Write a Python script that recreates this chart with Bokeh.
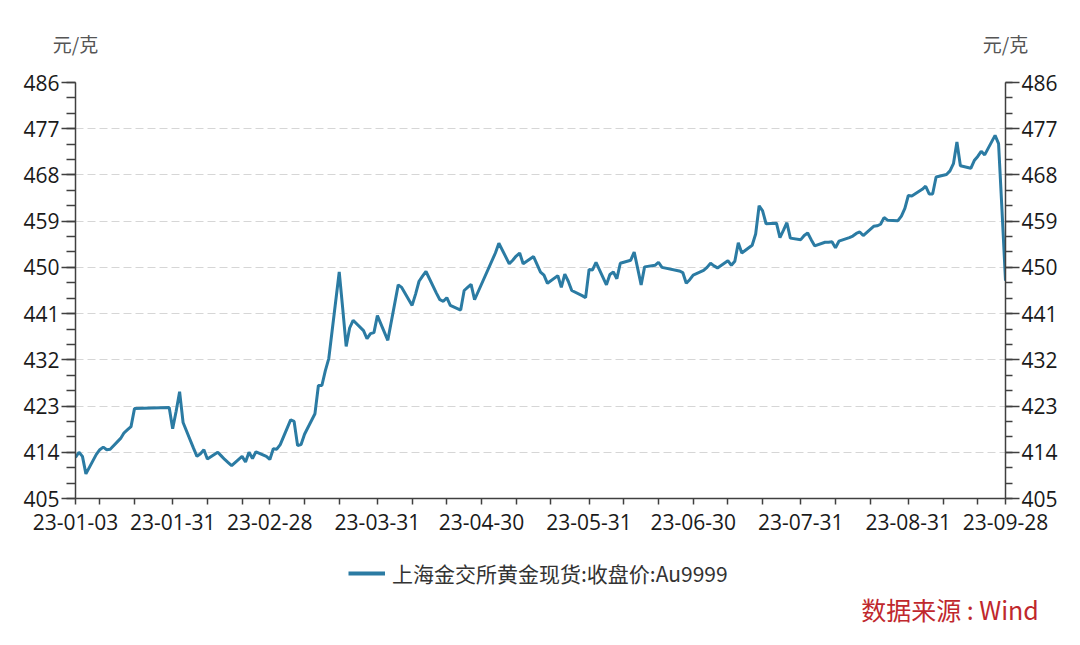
import pandas as pd
from bokeh.plotting import figure
from bokeh.layouts import column
from bokeh.models import (Range1d, LinearAxis, FixedTicker, SingleIntervalTicker,
                          DatetimeTickFormatter, CustomJSTickFormatter,
                          Legend, LegendItem)
from bokeh.embed import file_html
from bokeh.resources import INLINE

# ---- data -------------------------------------------------------------
holidays = ["2023-01-02", "2023-01-23", "2023-01-24", "2023-01-25", "2023-01-26",
            "2023-01-27", "2023-04-05", "2023-05-01", "2023-05-02", "2023-05-03",
            "2023-06-22", "2023-06-23"]
dates = pd.bdate_range("2023-01-03", "2023-09-28", freq="C", holidays=holidays)

jan = [413.0, 414.0, 413.2, 409.8, 413.6, 414.5, 415.0, 414.5, 414.6, 416.7,
       417.8, 418.4, 419.0, 422.5, 422.7, 418.6]
feb = [422.0, 425.8, 419.8, 414.8, 413.2, 413.7, 414.5, 412.7, 414.0, 413.3,
       412.6, 412.0, 411.4, 413.2, 412.1, 414.0, 412.8, 414.1, 413.2, 412.6]
mar = [414.7, 414.6, 415.5, 420.3, 420.0, 415.3, 415.5, 417.5, 421.5, 427.0,
       427.0, 429.9, 432.3, 449.1, 442.0, 434.6, 438.2, 439.7, 437.7, 436.1,
       437.1, 437.3, 440.6]
apr = [435.8, 439.4, 446.6, 446.1, 442.6, 444.8, 447.3, 448.3, 449.2, 445.0,
       443.7, 443.4, 444.1, 442.6, 441.7, 445.5, 446.1, 446.7, 443.7]
may = [452.8, 454.7, 450.7, 451.4, 452.2, 452.8, 450.7, 452.1, 450.6, 449.1,
       448.5, 446.9, 448.4, 446.1, 448.7, 447.3, 445.5, 444.5, 444.1, 449.6]
jun = [449.5, 451.0, 446.6, 448.6, 449.1, 447.8, 450.8, 451.4, 453.0, 449.8,
       446.6, 450.1, 450.4, 451.0, 450.0, 449.3, 449.0, 446.9, 447.6, 448.5]
jul = [449.4, 450.0, 450.8, 450.3, 449.9, 451.3, 450.4, 451.2, 454.8, 452.8,
       454.3, 456.5, 462.0, 461.0, 458.5, 458.6, 455.8, 457.2, 458.7, 455.7,
       455.4]
aug = [456.2, 456.7, 455.4, 454.2, 454.9, 454.9, 455.0, 453.8, 455.1, 455.8,
       456.1, 456.6, 456.9, 456.2, 458.0, 458.1, 458.4, 459.7, 459.2, 459.1,
       460.0, 461.5, 464.0]
sep = [463.9, 465.2, 465.8, 464.3, 464.3, 467.6, 468.1, 468.8, 470.2, 474.4,
       469.8, 469.3, 470.8, 471.6, 472.6, 471.9, 475.7, 474.1, 461.0, 447.4]
prices = jan + feb + mar + apr + may + jun + jul + aug + sep
assert len(prices) == len(dates), (len(prices), len(dates))

series_name = "上海金交所黄金现货:收盘价:Au9999"
unit_label = "元/克"
source_label = "数据来源 : Wind"

major_tick_dates = ["2023-01-03", "2023-01-31", "2023-02-28", "2023-03-31",
                    "2023-04-30", "2023-05-31", "2023-06-30", "2023-07-31",
                    "2023-08-31", "2023-09-28"]
minor_tick_days = [10, 20]
minor_tick_months = list(range(1, 10))
y_start, y_end, y_step = 405, 486, 9


def ms(s):
    return pd.Timestamp(s).value / 1e6


major_ticks = [ms(d) for d in major_tick_dates]
minor_ticks = [ms(f"2023-{m:02d}-{d:02d}") for m in minor_tick_months for d in minor_tick_days]

W = 1075
FRAME_L, FRAME_R = 75, 1005
LINE_COLOR = "#2b7ba3"
TICK_FONT = "Open Sans"
CJK_FONT = "Noto Sans CJK SC"
AX_COLOR = "#404040"

# ---- main chart -------------------------------------------------------
p = figure(width=W, height=548, x_axis_type="datetime",
           x_range=Range1d(ms(major_tick_dates[0]), ms(major_tick_dates[-1])),
           y_range=Range1d(y_start, y_end),
           output_backend="svg", toolbar_location=None,
           min_border_left=FRAME_L, min_border_right=W - FRAME_R,
           min_border_top=82, min_border_bottom=50)
p.outline_line_color = None
p.background_fill_color = "white"
p.border_fill_color = "white"

r = p.line(x=dates, y=prices, line_color=LINE_COLOR, line_width=3)


def style_axis(ax, tick_out, minor_out, standoff):
    ax.axis_line_color = AX_COLOR
    ax.axis_line_width = 1.5
    ax.major_tick_line_color = AX_COLOR
    ax.major_tick_line_width = 1.5
    ax.minor_tick_line_color = AX_COLOR
    ax.minor_tick_line_width = 1.5
    ax.major_tick_in = 0
    ax.minor_tick_in = 0
    ax.major_tick_out = tick_out
    ax.minor_tick_out = minor_out
    ax.major_label_standoff = standoff
    ax.major_label_text_font = TICK_FONT
    ax.major_label_text_font_size = "21px"
    ax.major_label_text_color = "#1a1a1a"


def text_axis(ticks, text, font_size, color, standoff):
    ax = LinearAxis(ticker=FixedTicker(ticks=ticks, minor_ticks=[]),
                    formatter=CustomJSTickFormatter(code=f"return '{text}'"))
    ax.axis_line_color = None
    ax.major_tick_line_color = None
    ax.minor_tick_line_color = None
    ax.major_tick_out = 0
    ax.major_tick_in = 0
    ax.major_label_standoff = standoff
    ax.major_label_text_font = CJK_FONT
    ax.major_label_text_font_size = font_size
    ax.major_label_text_color = color
    return ax


xax = p.xaxis[0]
xax.ticker = FixedTicker(ticks=major_ticks, minor_ticks=minor_ticks)
fmt = "%y-%m-%d"
xax.formatter = DatetimeTickFormatter(milliseconds=fmt, seconds=fmt, minsec=fmt,
                                      minutes=fmt, hourmin=fmt, hours=fmt, days=fmt,
                                      months=fmt, years=fmt)
style_axis(xax, 6, 6, 9)

yticker = SingleIntervalTicker(interval=y_step, num_minor_ticks=3)
yax = p.yaxis[0]
yax.ticker = yticker
style_axis(yax, 14, 9, 2)

rax = LinearAxis(ticker=SingleIntervalTicker(interval=y_step, num_minor_ticks=3))
style_axis(rax, 14, 7, 2)
p.add_layout(rax, "right")

# unit labels above both y axes
p.add_layout(text_axis([major_ticks[0], major_ticks[-1]], unit_label, "19px",
                       "#555555", 26), "above")

p.xgrid.grid_line_color = None
p.ygrid.ticker = yticker
p.ygrid.grid_line_color = "#d6d6d6"
p.ygrid.grid_line_dash = "8 4"
p.ygrid.grid_line_width = 1

# ---- footer: legend and source (x in page pixels) ----------------------
H2 = 92
f = figure(width=W, height=H2, x_range=Range1d(FRAME_L, FRAME_R),
           y_range=Range1d(0, 1),
           output_backend="svg", toolbar_location=None,
           min_border_left=FRAME_L, min_border_right=W - FRAME_R,
           min_border_top=0, min_border_bottom=50)
f.xaxis.visible = False
f.yaxis.visible = False
f.grid.grid_line_color = None
f.outline_line_color = None
f.background_fill_color = "white"
f.border_fill_color = "white"

sample = f.line(x=[float("nan")], y=[float("nan")], line_color=LINE_COLOR, line_width=4)
legend = Legend(items=[LegendItem(label=series_name, renderers=[sample])],
                location=(348 - FRAME_L, 2), glyph_width=37, glyph_height=24,
                label_height=24, label_standoff=7, padding=0, margin=0,
                border_line_color=None, background_fill_alpha=0,
                label_text_font=CJK_FONT, label_text_font_size="21px",
                label_text_color="#333333")
f.add_layout(legend)

source_center_x = 949.5
f.add_layout(text_axis([source_center_x], source_label, "25px", "#c0282d", 0), "below")

open("out.html", "w").write(file_html(column(p, f, spacing=0), INLINE))
